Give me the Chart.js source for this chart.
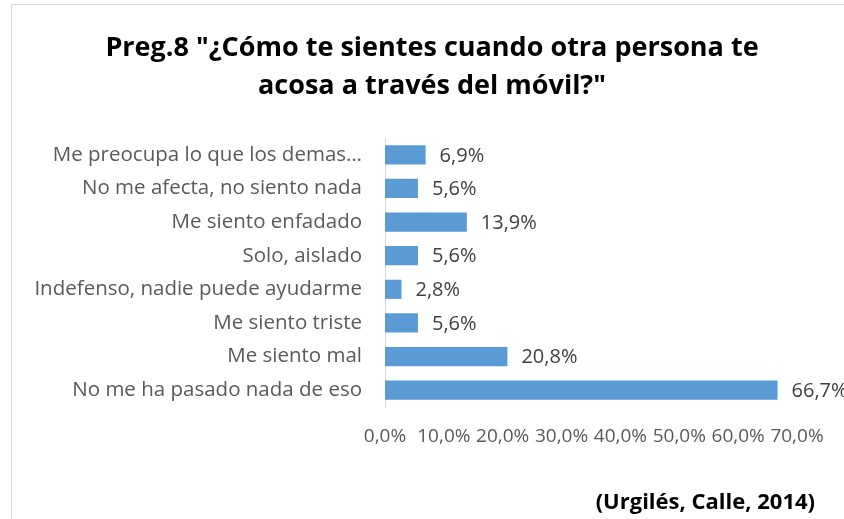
<!DOCTYPE html>
<html>
<head>
<meta charset="utf-8">
<script src="https://cdn.jsdelivr.net/npm/chart.js@4"></script>
<style>
  html, body { margin: 0; padding: 0; background: #ffffff; overflow: hidden; }
  #wrap { position: relative; width: 844px; height: 519px; }
</style>
</head>
<body>
<div id="wrap"><canvas id="chart" width="844" height="519"></canvas></div>
<script>
// data
const categories = [
  'Me preocupa lo que los demas…',
  'No me afecta, no siento nada',
  'Me siento enfadado',
  'Solo, aislado',
  'Indefenso, nadie puede ayudarme',
  'Me siento triste',
  'Me siento mal',
  'No me ha pasado nada de eso',
];
const percentages = [6.9, 5.6, 13.9, 5.6, 2.8, 5.6, 20.8, 66.7];
const xTicks = [0, 10, 20, 30, 40, 50, 60, 70];
const titleLines = ['Preg.8 "¿Cómo te sientes cuando otra persona te', 'acosa a través del móvil?"'];
const sourceText = '(Urgilés, Calle, 2014)';

const FONT = '"Open Sans", Lato, sans-serif';
const fmt = v => v.toFixed(1).replace('.', ',') + '%';

// light frame around the chart, as in the original export
const framePlugin = {
  id: 'frame',
  beforeDraw(chart) {
    const ctx = chart.ctx;
    ctx.save();
    ctx.fillStyle = '#ffffff';
    ctx.fillRect(0, 0, chart.width, chart.height);
    ctx.strokeStyle = '#d9d9d9';
    ctx.lineWidth = 1;
    ctx.strokeRect(11.5, 4.5, 1000, 1000);
    ctx.restore();
  }
};

// value labels at the end of each bar
const valueLabels = {
  id: 'valueLabels',
  afterDatasetsDraw(chart) {
    const ctx = chart.ctx;
    const meta = chart.getDatasetMeta(0);
    ctx.save();
    ctx.font = '20px ' + FONT;
    ctx.fillStyle = '#404040';
    ctx.textAlign = 'left';
    ctx.textBaseline = 'middle';
    meta.data.forEach((bar, i) => {
      ctx.fillText(fmt(percentages[i]), bar.x + 14, bar.y + 1);
    });
    ctx.restore();
  }
};

// title (centred on the frame) and source note, bottom right
const texts = {
  id: 'texts',
  afterDraw(chart) {
    const ctx = chart.ctx;
    ctx.save();
    ctx.fillStyle = '#000000';
    ctx.textBaseline = 'middle';
    ctx.textAlign = 'center';
    ctx.font = 'bold 27px ' + FONT;
    titleLines.forEach((line, i) => ctx.fillText(line, 432, 48 + i * 38));
    ctx.textAlign = 'right';
    ctx.font = 'bold 22px ' + FONT;
    ctx.fillText(sourceText, 815, 503);
    ctx.restore();
  }
};

new Chart(document.getElementById('chart').getContext('2d'), {
  type: 'bar',
  data: {
    labels: categories,
    datasets: [{
      data: percentages,
      backgroundColor: '#5b9bd5',
      borderWidth: 0,
      barPercentage: 0.57,
      categoryPercentage: 1.0,
    }],
  },
  options: {
    indexAxis: 'y',
    responsive: false,
    animation: false,
    layout: { padding: { top: 138, right: 47, bottom: 72, left: 0 } },
    scales: {
      x: {
        min: 0,
        max: 70,
        afterBuildTicks: axis => { axis.ticks = xTicks.map(v => ({ value: v })); },
        afterFit: axis => { axis.height = 40; },
        grid: { display: false, drawTicks: false },
        border: { display: false },
        ticks: {
          color: '#595959',
          font: { family: FONT, size: 19 },
          padding: 18,
          maxRotation: 0,
          autoSkip: false,
          callback: v => fmt(v),
        },
      },
      y: {
        afterFit: axis => { axis.width = 385; },
        grid: { display: false, drawTicks: false },
        border: { display: true, color: '#d9d9d9', width: 1 },
        ticks: {
          color: '#595959',
          font: { family: FONT, size: 20.5 },
          padding: 23,
          autoSkip: false,
        },
      },
    },
    plugins: {
      legend: { display: false },
      tooltip: { enabled: false },
      title: { display: false },
    },
  },
  plugins: [framePlugin, valueLabels, texts],
});
</script>
</body>
</html>
